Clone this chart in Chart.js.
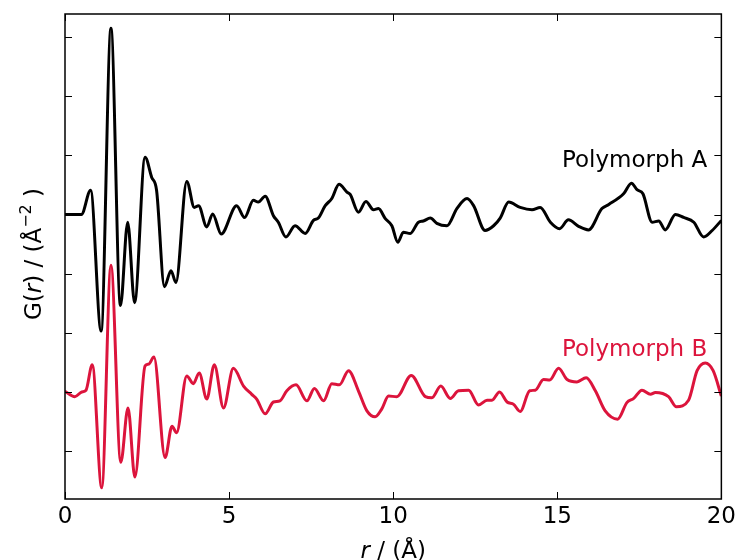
<!DOCTYPE html>
<html>
<head>
<meta charset="utf-8">
<script src="https://cdn.jsdelivr.net/npm/chart.js@4.4.1/dist/chart.umd.min.js"></script>
<style>
  body { margin: 0; background: #fff; }
</style>
</head>
<body>
<canvas id="pdfChart" width="740" height="560"></canvas>
<script>
// PDF curves (r in Angstrom, G(r) offset units)
const rA = [0, 0.5, 0.78, 1.10, 1.40, 1.69, 1.91, 2.12, 2.44, 2.64, 2.79, 3.03, 3.23, 3.38, 3.71, 3.94, 4.07, 4.32, 4.50, 4.76,
  5.23, 5.47, 5.74, 5.89, 6.10, 6.35, 6.50, 6.73, 7.01, 7.32, 7.57, 7.72, 7.93, 8.13, 8.35, 8.59, 8.69, 8.94, 9.17, 9.40,
  9.55, 9.76, 9.96, 10.14, 10.31, 10.52, 10.77, 10.92, 11.13, 11.33, 11.64, 11.94, 12.25, 12.45, 12.80, 13.06, 13.26, 13.52, 13.87, 14.23,
  14.48, 14.79, 15.07, 15.34, 15.65, 15.95, 16.36, 16.57, 17.02, 17.26, 17.43, 17.61, 17.89, 18.09, 18.29, 18.60, 18.85, 19.16, 19.46, 19.72, 20.0];
const gA = [0, 0, 0.41, -1.97, 3.15, -1.54, -0.13, -1.49, 0.97, 0.63, 0.41, -1.22, -0.95, -1.15, 0.56, 0.12, 0.15, -0.21, 0.01, -0.33,
  0.15, -0.05, 0.24, 0.21, 0.31, -0.02, -0.13, -0.38, -0.19, -0.32, -0.10, -0.06, 0.15, 0.27, 0.51, 0.38, 0.34, 0.04, 0.22, 0.08,
  0.10, -0.07, -0.19, -0.47, -0.30, -0.32, -0.13, -0.11, -0.06, -0.15, -0.19, 0.10, 0.27, 0.15, -0.27, -0.19, -0.06, 0.21, 0.12, 0.08,
  0.12, -0.13, -0.24, -0.09, -0.20, -0.26, 0.10, 0.17, 0.35, 0.53, 0.42, 0.35, -0.13, -0.11, -0.26, 0.0, -0.05, -0.13, -0.38, -0.27, -0.10];

const rB = [0, 0.30, 0.51, 0.64, 0.83, 1.12, 1.40, 1.70, 1.92, 2.13, 2.44, 2.55, 2.71, 3.05, 3.26, 3.40, 3.71, 3.91, 4.09, 4.32,
  4.55, 4.83, 5.13, 5.44, 5.69, 5.84, 6.10, 6.35, 6.55, 6.76, 7.04, 7.37, 7.60, 7.88, 8.13, 8.36, 8.64, 8.94, 9.20, 9.45,
  9.65, 9.86, 10.11, 10.55, 10.98, 11.18, 11.45, 11.74, 11.99, 12.30, 12.60, 12.86, 13.01, 13.24, 13.47, 13.67, 13.87, 14.16, 14.33, 14.58,
  14.77, 15.04, 15.30, 15.60, 15.88, 16.16, 16.46, 16.84, 17.12, 17.33, 17.58, 17.84, 17.99, 18.39, 18.63, 19.00, 19.26, 19.51, 19.75, 20.0];
const gB = [-2.99, -3.08, -3.00, -2.97, -2.54, -4.62, -0.86, -4.19, -3.27, -4.44, -2.56, -2.53, -2.41, -4.11, -3.58, -3.69, -2.73, -2.86, -2.68, -3.12,
  -2.54, -3.27, -2.60, -2.90, -3.04, -3.12, -3.37, -3.17, -3.15, -2.98, -2.88, -3.15, -2.94, -3.15, -2.86, -2.88, -2.64, -2.98, -3.32, -3.42,
  -3.29, -3.07, -3.08, -2.72, -3.08, -3.10, -2.90, -3.11, -2.98, -2.97, -3.22, -3.14, -3.14, -3.00, -3.17, -3.21, -3.33, -2.98, -2.97, -2.79,
  -2.80, -2.60, -2.79, -2.83, -2.76, -2.98, -3.32, -3.46, -3.18, -3.11, -2.97, -3.04, -3.01, -3.08, -3.25, -3.14, -2.64, -2.51, -2.64, -3.07];

const xTicks = [0, 5, 10, 15, 20];
const yTicks = [-4, -3, -2, -1, 0, 1, 2, 3];
const seriesNames = ["Polymorph A", "Polymorph B"];
const seriesColors = ["#000000", "#dc143c"];

const FONT = "'DejaVu Sans', sans-serif";

function toPoints(xs, ys) {
  return xs.map((x, i) => ({x: x, y: ys[i]}));
}

// inward ticks on all four sides, frame, axis titles and curve labels
const decorPlugin = {
  id: "decor",
  afterDraw(chart) {
    const ctx = chart.ctx;
    const a = chart.chartArea;
    const xs = chart.scales.x, ys = chart.scales.y;
    const len = 7;
    ctx.save();
    ctx.strokeStyle = "#000";
    ctx.lineWidth = 1;
    ctx.beginPath();
    xTicks.forEach(v => {
      const px = Math.round(xs.getPixelForValue(v)) + 0.5;
      ctx.moveTo(px, a.bottom); ctx.lineTo(px, a.bottom - len);
      ctx.moveTo(px, a.top); ctx.lineTo(px, a.top + len);
    });
    yTicks.forEach(v => {
      const py = Math.round(ys.getPixelForValue(v)) + 0.5;
      ctx.moveTo(a.left, py); ctx.lineTo(a.left + len, py);
      ctx.moveTo(a.right, py); ctx.lineTo(a.right - len, py);
    });
    ctx.stroke();
    ctx.lineWidth = 1.5;
    ctx.strokeRect(a.left, a.top, a.right - a.left, a.bottom - a.top);

    // curve labels
    ctx.font = "23px " + FONT;
    ctx.textAlign = "right";
    ctx.textBaseline = "alphabetic";
    ctx.fillStyle = seriesColors[0];
    ctx.fillText(seriesNames[0], xs.getPixelForValue(19.57), ys.getPixelForValue(0.80));
    ctx.fillStyle = seriesColors[1];
    ctx.fillText(seriesNames[1], xs.getPixelForValue(19.57), ys.getPixelForValue(-2.40));

    // x title: r / (Å)
    ctx.fillStyle = "#000";
    ctx.textAlign = "left";
    const it = "italic 23px " + FONT, up = "23px " + FONT;
    ctx.font = it; const w1 = ctx.measureText("r").width;
    ctx.font = up; const w2 = ctx.measureText(" / (Å)").width;
    let x0 = (a.left + a.right) / 2 - (w1 + w2) / 2;
    ctx.font = it; ctx.fillText("r", x0, 558);
    ctx.font = up; ctx.fillText(" / (Å)", x0 + w1, 558);

    // y title: G(r) / (Å^-2)
    const parts = [
      {t: "G(", f: up, dy: 0},
      {t: "r", f: it, dy: 0},
      {t: ") / (Å", f: up, dy: 0},
      {t: "−2", f: "16px " + FONT, dy: -10},
      {t: " )", f: up, dy: 0}
    ];
    let total = 0;
    parts.forEach(p => { ctx.font = p.f; p.w = ctx.measureText(p.t).width; total += p.w; });
    ctx.translate(41, 254);
    ctx.rotate(-Math.PI / 2);
    let cx = -total / 2;
    parts.forEach(p => { ctx.font = p.f; ctx.fillText(p.t, cx, p.dy); cx += p.w; });
    ctx.restore();
  }
};

new Chart(document.getElementById("pdfChart"), {
  type: "line",
  data: {
    datasets: [
      {
        label: seriesNames[0],
        data: toPoints(rA, gA),
        borderColor: seriesColors[0],
        borderWidth: 3,
        pointRadius: 0,
        cubicInterpolationMode: "monotone",
        fill: false
      },
      {
        label: seriesNames[1],
        data: toPoints(rB, gB),
        borderColor: seriesColors[1],
        borderWidth: 3,
        pointRadius: 0,
        cubicInterpolationMode: "monotone",
        fill: false
      }
    ]
  },
  options: {
    responsive: false,
    animation: false,
    layout: { padding: { top: 14, right: 18, left: 0, bottom: 0 } },
    plugins: { legend: { display: false }, tooltip: { enabled: false } },
    scales: {
      x: {
        type: "linear",
        min: 0,
        max: 20,
        grid: { display: false, drawTicks: false },
        border: { display: false },
        ticks: {
          stepSize: 5,
          padding: 4,
          color: "#000",
          font: { family: FONT, size: 23 },
          maxRotation: 0
        },
        afterFit(s) { s.height = 61; }
      },
      y: {
        type: "linear",
        min: -4.81,
        max: 3.39,
        grid: { display: false, drawTicks: false },
        border: { display: false },
        ticks: { display: false },
        afterFit(s) { s.width = 65; }
      }
    }
  },
  plugins: [decorPlugin]
});
</script>
</body>
</html>
